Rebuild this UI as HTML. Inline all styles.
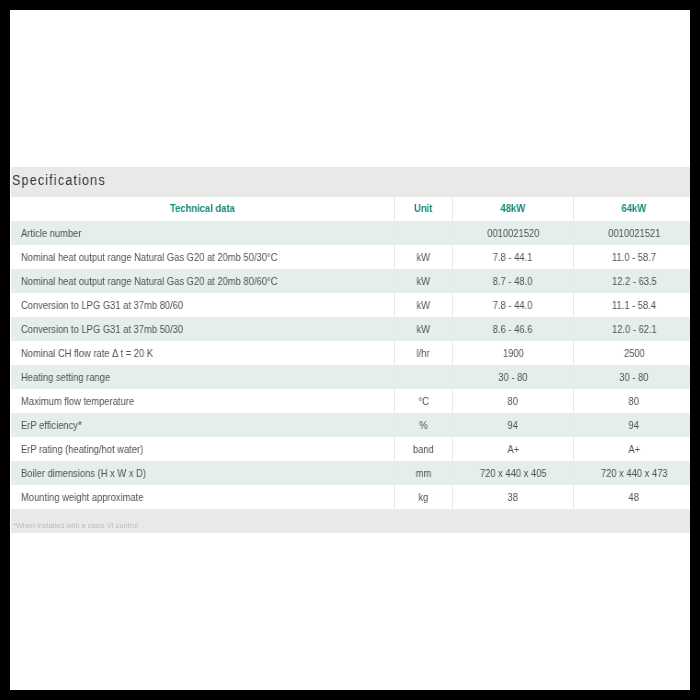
<!DOCTYPE html>
<html><head><meta charset="utf-8">
<style>
html,body{margin:0;padding:0;background:#000;width:700px;height:700px;overflow:hidden}
#frame{position:absolute;left:10px;top:10px;width:680px;height:680px;background:#fff;overflow:hidden;font-family:"Liberation Sans",sans-serif}
#wrap{position:absolute;left:1px;top:157px;width:683px}
.title{height:29px;border-bottom:1px dotted #e4e4e4;background:#e9e9e9;font-size:14px;letter-spacing:1.27px;color:#333;line-height:27px;padding-left:1px}
.title span{transform:scaleX(0.9);transform-origin:0 50%}
.hdr,.row{position:relative;height:24px;white-space:nowrap}
.hdr{height:24px;font-weight:bold;color:#148a78;font-size:10.6px}
.row{font-size:10.2px;color:#505050}
.row.a{background:#e5eeed}
.hdr>div,.row>div{position:absolute;top:0;bottom:0;text-align:center;line-height:24px}
.hdr>div{line-height:24px}
.c0{left:0;width:383px}
.c1{left:383px;width:57px;border-left:1px solid #ebe9e9}
.c2{left:441px;width:120px;border-left:1px solid #ebe9e9}
.c3{left:562px;width:120px;border-left:1px solid #ebe9e9}
span{display:inline-block;will-change:transform}
.hdr span{transform:scaleX(0.89);position:relative;top:-1px}
.row span{transform:scaleX(0.92);position:relative;top:1px}
.row .c0{text-align:left}
.row .c0 span{margin-left:10px;transform-origin:0 50%}
.foot{height:23px;border-top:1px solid #e4eeec;background:#e9e9e9;font-size:7.4px;color:#bcbcbc;line-height:31px;padding-left:2px}
</style></head><body>
<div id="frame"><div id="wrap">
<div class="title"><span>Specifications</span></div>
<div class="hdr"><div class="c0"><span>Technical data</span></div><div class="c1"><span>Unit</span></div><div class="c2"><span>48kW</span></div><div class="c3"><span>64kW</span></div></div>
<div class="row a"><div class="c0"><span>Article number</span></div><div class="c1"><span></span></div><div class="c2"><span>0010021520</span></div><div class="c3"><span>0010021521</span></div></div>
<div class="row"><div class="c0"><span>Nominal heat output range Natural Gas G20 at 20mb 50/30°C</span></div><div class="c1"><span>kW</span></div><div class="c2"><span>7.8 - 44.1</span></div><div class="c3"><span>11.0 - 58.7</span></div></div>
<div class="row a"><div class="c0"><span>Nominal heat output range Natural Gas G20 at 20mb 80/60°C</span></div><div class="c1"><span>kW</span></div><div class="c2"><span>8.7 - 48.0</span></div><div class="c3"><span>12.2 - 63.5</span></div></div>
<div class="row"><div class="c0"><span>Conversion to LPG G31 at 37mb 80/60</span></div><div class="c1"><span>kW</span></div><div class="c2"><span>7.8 - 44.0</span></div><div class="c3"><span>11.1 - 58.4</span></div></div>
<div class="row a"><div class="c0"><span>Conversion to LPG G31 at 37mb 50/30</span></div><div class="c1"><span>kW</span></div><div class="c2"><span>8.6 - 46.6</span></div><div class="c3"><span>12.0 - 62.1</span></div></div>
<div class="row"><div class="c0"><span>Nominal CH flow rate Δ t = 20 K</span></div><div class="c1"><span>l/hr</span></div><div class="c2"><span>1900</span></div><div class="c3"><span>2500</span></div></div>
<div class="row a"><div class="c0"><span>Heating setting range</span></div><div class="c1"><span></span></div><div class="c2"><span>30 - 80</span></div><div class="c3"><span>30 - 80</span></div></div>
<div class="row"><div class="c0"><span>Maximum flow temperature</span></div><div class="c1"><span>°C</span></div><div class="c2"><span>80</span></div><div class="c3"><span>80</span></div></div>
<div class="row a"><div class="c0"><span>ErP efficiency*</span></div><div class="c1"><span>%</span></div><div class="c2"><span>94</span></div><div class="c3"><span>94</span></div></div>
<div class="row"><div class="c0"><span>ErP rating (heating/hot water)</span></div><div class="c1"><span>band</span></div><div class="c2"><span>A+</span></div><div class="c3"><span>A+</span></div></div>
<div class="row a"><div class="c0"><span>Boiler dimensions (H x W x D)</span></div><div class="c1"><span>mm</span></div><div class="c2"><span>720 x 440 x 405</span></div><div class="c3"><span>720 x 440 x 473</span></div></div>
<div class="row"><div class="c0"><span>Mounting weight approximate</span></div><div class="c1"><span>kg</span></div><div class="c2"><span>38</span></div><div class="c3"><span>48</span></div></div>
<div class="foot"><span>*When installed with a class VI control</span></div>
</div></div>
</body></html>
